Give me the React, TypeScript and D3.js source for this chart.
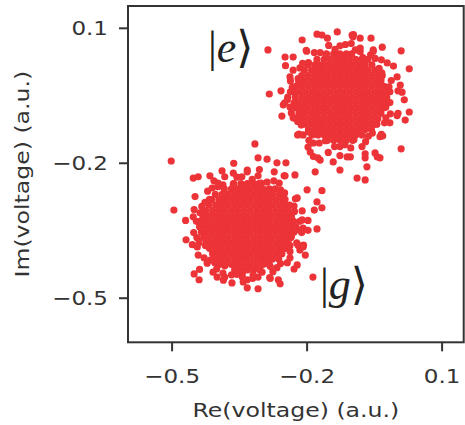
import * as d3 from 'd3'

// tick values (a.u.)
const reTicks = [-0.5, -0.2, 0.1]
const imTicks = [0.1, -0.2, -0.5]

// dense centre of the |e> blob, read row by row: Im value and the Re values on that row
const excitedCore = [
  { im: 0.043, re: [-0.157, -0.141, -0.127, -0.113, -0.101] },
  { im: 0.031, re: [-0.178, -0.162, -0.148, -0.134, -0.120, -0.106, -0.092, -0.078, -0.065] },
  { im: 0.019, re: [-0.198, -0.183, -0.169, -0.155, -0.141, -0.127, -0.113, -0.099, -0.085, -0.071, -0.056] },
  { im: 0.007, re: [-0.206, -0.190, -0.176, -0.162, -0.148, -0.134, -0.120, -0.106, -0.092, -0.078, -0.064, -0.049] },
  { im: -0.005, re: [-0.212, -0.197, -0.183, -0.169, -0.155, -0.141, -0.127, -0.113, -0.099, -0.085, -0.071, -0.057, -0.043, -0.033] },
  { im: -0.017, re: [-0.219, -0.204, -0.190, -0.176, -0.162, -0.148, -0.134, -0.120, -0.106, -0.092, -0.078, -0.064, -0.050, -0.036] },
  { im: -0.029, re: [-0.225, -0.211, -0.197, -0.183, -0.169, -0.155, -0.141, -0.127, -0.113, -0.099, -0.085, -0.071, -0.057, -0.043, -0.029] },
  { im: -0.041, re: [-0.231, -0.218, -0.204, -0.190, -0.176, -0.162, -0.148, -0.134, -0.120, -0.106, -0.092, -0.078, -0.064, -0.050, -0.036, -0.024] },
  { im: -0.053, re: [-0.226, -0.211, -0.197, -0.183, -0.169, -0.155, -0.141, -0.127, -0.113, -0.099, -0.085, -0.071, -0.057, -0.043, -0.029] },
  { im: -0.065, re: [-0.229, -0.218, -0.204, -0.190, -0.176, -0.162, -0.148, -0.134, -0.120, -0.106, -0.092, -0.078, -0.064, -0.050, -0.036, -0.023] },
  { im: -0.077, re: [-0.224, -0.211, -0.197, -0.183, -0.169, -0.155, -0.141, -0.127, -0.113, -0.099, -0.085, -0.071, -0.057, -0.043, -0.030] },
  { im: -0.089, re: [-0.218, -0.204, -0.190, -0.176, -0.162, -0.148, -0.134, -0.120, -0.106, -0.092, -0.078, -0.064, -0.050, -0.036] },
  { im: -0.101, re: [-0.211, -0.197, -0.183, -0.169, -0.155, -0.141, -0.127, -0.113, -0.099, -0.085, -0.071, -0.057, -0.043] },
  { im: -0.113, re: [-0.204, -0.190, -0.176, -0.162, -0.148, -0.134, -0.120, -0.106, -0.092, -0.078, -0.064, -0.050] },
  { im: -0.125, re: [-0.197, -0.183, -0.169, -0.155, -0.141, -0.127, -0.113, -0.099, -0.085, -0.071, -0.057] },
  { im: -0.137, re: [-0.189, -0.176, -0.162, -0.148, -0.134, -0.120, -0.106, -0.092, -0.078] },
  { im: -0.149, re: [-0.155, -0.141, -0.127, -0.113, -0.099] },
]

// scattered |e> shots around the centre
const excitedHalo = [
  [-0.023, -0.053], [-0.018, -0.030], [-0.036, -0.012], [-0.040, 0.011], [-0.049, 0.033], [-0.076, 0.035],
  [-0.093, 0.052], [-0.115, 0.064], [-0.138, 0.053], [-0.158, 0.042], [-0.184, 0.046], [-0.197, 0.024],
  [-0.216, 0.012], [-0.220, -0.012], [-0.233, -0.031], [-0.243, -0.053], [-0.225, -0.074], [-0.229, -0.099],
  [-0.213, -0.115], [-0.197, -0.130], [-0.186, -0.155], [-0.159, -0.150], [-0.139, -0.163], [-0.116, -0.159],
  [-0.096, -0.148], [-0.070, -0.152], [-0.055, -0.133], [-0.045, -0.113], [-0.025, -0.099], [-0.025, -0.075],
  [-0.016, -0.041], [-0.013, -0.016], [-0.034, 0.001], [-0.035, 0.030], [-0.059, 0.041], [-0.082, 0.048],
  [-0.102, 0.066], [-0.127, 0.061], [-0.152, 0.062], [-0.171, 0.046], [-0.201, 0.049], [-0.210, 0.022],
  [-0.231, 0.007], [-0.237, -0.017], [-0.237, -0.041], [-0.250, -0.066], [-0.235, -0.088], [-0.221, -0.107],
  [-0.218, -0.135], [-0.196, -0.149], [-0.173, -0.155], [-0.153, -0.176], [-0.127, -0.163], [-0.103, -0.166],
  [-0.078, -0.163], [-0.064, -0.140], [-0.035, -0.136], [-0.028, -0.110], [-0.015, -0.090], [-0.016, -0.065],
  [0.002, -0.039], [-0.008, 0.016], [-0.053, 0.049], [-0.097, 0.086], [-0.155, 0.078], [-0.202, 0.051],
  [-0.248, 0.017], [-0.258, -0.039], [-0.256, -0.095], [-0.221, -0.137], [-0.186, -0.185], [-0.127, -0.183],
  [-0.071, -0.179], [-0.032, -0.139], [0.000, -0.094],
  [-0.287, 0.052], [-0.284, -0.046], [-0.211, 0.074], [-0.178, 0.087], [-0.133, 0.092], [-0.100, 0.085],
  [-0.082, 0.078], [-0.058, 0.078], [-0.033, 0.058], [0.009, 0.050], [0.027, 0.010], [0.007, -0.026],
  [0.011, -0.042], [0.016, -0.059], [0.027, -0.086], [0.018, -0.104], [0.009, -0.168], [-0.049, -0.177],
  [-0.038, -0.188], [-0.071, -0.188], [-0.089, -0.233], [-0.071, -0.237], [-0.127, -0.215], [-0.182, -0.219],
  [-0.111, -0.186], [-0.176, -0.188], [-0.193, -0.175], [-0.249, 0.036], [-0.231, 0.036], [-0.253, -0.070],
  [-0.220, -0.099], [-0.209, -0.137], [-0.171, -0.193], [-0.142, -0.197], [-0.104, -0.186], [-0.044, -0.186],
  [-0.067, -0.208], [-0.167, 0.085], [-0.098, 0.081], [-0.082, 0.056], [-0.053, 0.052], [-0.022, 0.023],
  [0.000, -0.008], [0.002, -0.089], [-0.016, -0.110], [-0.038, -0.141], [-0.238, -0.008], [-0.244, -0.059],
  [-0.238, -0.075], [-0.231, -0.099], [-0.198, -0.164],
]

// dense centre of the |g> blob
const groundCore = [
  { im: -0.245, re: [-0.363, -0.347, -0.333, -0.319, -0.307] },
  { im: -0.257, re: [-0.384, -0.368, -0.354, -0.340, -0.326, -0.312, -0.298, -0.284, -0.271] },
  { im: -0.269, re: [-0.404, -0.389, -0.375, -0.361, -0.347, -0.333, -0.319, -0.305, -0.291, -0.277, -0.262] },
  { im: -0.281, re: [-0.412, -0.396, -0.382, -0.368, -0.354, -0.340, -0.326, -0.312, -0.298, -0.284, -0.270, -0.255] },
  { im: -0.293, re: [-0.418, -0.403, -0.389, -0.375, -0.361, -0.347, -0.333, -0.319, -0.305, -0.291, -0.277, -0.263, -0.249, -0.239] },
  { im: -0.305, re: [-0.425, -0.410, -0.396, -0.382, -0.368, -0.354, -0.340, -0.326, -0.312, -0.298, -0.284, -0.270, -0.256, -0.242] },
  { im: -0.317, re: [-0.431, -0.417, -0.403, -0.389, -0.375, -0.361, -0.347, -0.333, -0.319, -0.305, -0.291, -0.277, -0.263, -0.249, -0.235] },
  { im: -0.329, re: [-0.437, -0.424, -0.410, -0.396, -0.382, -0.368, -0.354, -0.340, -0.326, -0.312, -0.298, -0.284, -0.270, -0.256, -0.242, -0.230] },
  { im: -0.341, re: [-0.432, -0.417, -0.403, -0.389, -0.375, -0.361, -0.347, -0.333, -0.319, -0.305, -0.291, -0.277, -0.263, -0.249, -0.235] },
  { im: -0.353, re: [-0.435, -0.424, -0.410, -0.396, -0.382, -0.368, -0.354, -0.340, -0.326, -0.312, -0.298, -0.284, -0.270, -0.256, -0.242, -0.229] },
  { im: -0.365, re: [-0.430, -0.417, -0.403, -0.389, -0.375, -0.361, -0.347, -0.333, -0.319, -0.305, -0.291, -0.277, -0.263, -0.249, -0.236] },
  { im: -0.377, re: [-0.424, -0.410, -0.396, -0.382, -0.368, -0.354, -0.340, -0.326, -0.312, -0.298, -0.284, -0.270, -0.256, -0.242] },
  { im: -0.389, re: [-0.417, -0.403, -0.389, -0.375, -0.361, -0.347, -0.333, -0.319, -0.305, -0.291, -0.277, -0.263, -0.249] },
  { im: -0.401, re: [-0.410, -0.396, -0.382, -0.368, -0.354, -0.340, -0.326, -0.312, -0.298, -0.284, -0.270, -0.256] },
  { im: -0.413, re: [-0.403, -0.389, -0.375, -0.361, -0.347, -0.333, -0.319, -0.305, -0.291, -0.277, -0.263] },
  { im: -0.425, re: [-0.395, -0.382, -0.368, -0.354, -0.340, -0.326, -0.312, -0.298, -0.284] },
  { im: -0.437, re: [-0.361, -0.347, -0.333, -0.319, -0.305] },
]

// scattered |g> shots
const groundHalo = [
  [-0.225, -0.341], [-0.235, -0.320], [-0.229, -0.295], [-0.249, -0.280], [-0.259, -0.259], [-0.274, -0.239],
  [-0.302, -0.244], [-0.322, -0.236], [-0.345, -0.230], [-0.364, -0.246], [-0.387, -0.248], [-0.411, -0.255],
  [-0.417, -0.280], [-0.434, -0.296], [-0.431, -0.320], [-0.439, -0.341], [-0.445, -0.365], [-0.426, -0.383],
  [-0.429, -0.410], [-0.405, -0.421], [-0.383, -0.428], [-0.368, -0.448], [-0.344, -0.445], [-0.321, -0.456],
  [-0.300, -0.442], [-0.282, -0.429], [-0.259, -0.423], [-0.238, -0.410], [-0.238, -0.383], [-0.235, -0.362],
  [-0.216, -0.329], [-0.228, -0.307], [-0.226, -0.279], [-0.250, -0.266], [-0.262, -0.244], [-0.289, -0.242],
  [-0.309, -0.228], [-0.333, -0.215], [-0.356, -0.231], [-0.383, -0.230], [-0.398, -0.252], [-0.421, -0.262],
  [-0.427, -0.287], [-0.451, -0.303], [-0.446, -0.329], [-0.452, -0.354], [-0.440, -0.376], [-0.442, -0.404],
  [-0.415, -0.415], [-0.401, -0.435], [-0.383, -0.453], [-0.356, -0.447], [-0.333, -0.459], [-0.309, -0.453],
  [-0.283, -0.454], [-0.267, -0.432], [-0.244, -0.421], [-0.238, -0.396], [-0.223, -0.377], [-0.212, -0.354],
  [-0.198, -0.327], [-0.222, -0.277], [-0.251, -0.228], [-0.306, -0.214], [-0.363, -0.200], [-0.407, -0.239],
  [-0.449, -0.274], [-0.470, -0.327], [-0.455, -0.381], [-0.439, -0.436], [-0.386, -0.460], [-0.333, -0.477],
  [-0.282, -0.456], [-0.229, -0.435], [-0.208, -0.382],
  [-0.502, -0.195], [-0.496, -0.304], [-0.469, -0.370], [-0.451, -0.446], [-0.440, -0.459], [-0.442, -0.230],
  [-0.416, -0.228], [-0.389, -0.217], [-0.333, -0.219], [-0.316, -0.157], [-0.309, -0.188], [-0.267, -0.199],
  [-0.273, -0.219], [-0.249, -0.228], [-0.227, -0.226], [-0.200, -0.259], [-0.167, -0.261], [-0.178, -0.286],
  [-0.167, -0.299], [-0.184, -0.304], [-0.211, -0.306], [-0.209, -0.344], [-0.178, -0.346], [-0.187, -0.453],
  [-0.216, -0.393], [-0.204, -0.404], [-0.222, -0.426], [-0.264, -0.459], [-0.260, -0.468], [-0.309, -0.479],
  [-0.344, -0.453], [-0.342, -0.464], [-0.367, -0.466], [-0.387, -0.444], [-0.422, -0.422], [-0.453, -0.319],
  [-0.438, -0.310], [-0.431, -0.348], [-0.444, -0.386], [-0.247, -0.199], [-0.289, -0.191], [-0.453, -0.233],
  [-0.398, -0.244], [-0.364, -0.222], [-0.216, -0.349], [-0.198, -0.349], [-0.211, -0.326], [-0.220, -0.382],
  [-0.209, -0.386], [-0.409, -0.442], [-0.400, -0.453], [-0.320, -0.448], [-0.276, -0.441],
]

const RED = '#ec3337'
const INK = '#333'
const STRETCH = 1.18

const flattenRows = (rows) => rows.flatMap(r => r.re.map(re => [re, r.im]))

export default function App() {
  const width = 465
  const height = 425
  const left = 128
  const right = 463.7
  const top = 6
  const bottom = 342.3

  const x = d3.scaleLinear().domain([-0.598, 0.148]).range([left, right])
  const y = d3.scaleLinear().domain([-0.598, 0.1496]).range([bottom, top])
  const fmt = d3.format('.1f')

  const points = [
    ...flattenRows(excitedCore),
    ...excitedHalo,
    ...flattenRows(groundCore),
    ...groundHalo,
  ]

  const font = '"DejaVu Sans", sans-serif'

  return (
    <svg width={width} height={height} style={{ position: 'absolute', left: 0, top: 0, background: '#fff' }}>
      <g>
        {points.map((p, i) => (
          <circle key={i} cx={x(p[0])} cy={y(p[1])} r={3.6} fill={RED} />
        ))}
      </g>

      <rect x={left} y={top} width={right - left} height={bottom - top} fill='none' stroke={INK} strokeWidth={2} />

      {reTicks.map(t => (
        <g key={'x' + t}>
          <line x1={x(t)} x2={x(t)} y1={bottom} y2={bottom + 9} stroke={INK} strokeWidth={2} />
          <g transform={`translate(${x(t)},${bottom + 41}) scale(${STRETCH},1)`}>
            <text textAnchor='middle' fontFamily={font} fontSize={19.5} fill={INK}>{fmt(t)}</text>
          </g>
        </g>
      ))}

      {imTicks.map(t => (
        <g key={'y' + t}>
          <line x1={left - 9} x2={left} y1={y(t)} y2={y(t)} stroke={INK} strokeWidth={2} />
          <g transform={`translate(${left - 20},${y(t) + 7}) scale(${STRETCH},1)`}>
            <text textAnchor='end' fontFamily={font} fontSize={19.5} fill={INK}>{fmt(t)}</text>
          </g>
        </g>
      ))}

      <g transform={`translate(${(left + right) / 2},416.5) scale(${STRETCH},1)`}>
        <text textAnchor='middle' fontFamily={font} fontSize={20} fill={INK}>Re(voltage) (a.u.)</text>
      </g>
      <g transform={`translate(29,${(top + bottom) / 2}) rotate(-90) scale(${STRETCH},1)`}>
        <text textAnchor='middle' fontFamily={font} fontSize={20} fill={INK}>Im(voltage) (a.u.)</text>
      </g>

      <text x={208} y={62} fontFamily='"Liberation Serif", serif' fontSize={44} fill='#222'>
        |<tspan fontStyle='italic'>e</tspan><tspan fontFamily='"DejaVu Serif", serif'>⟩</tspan>
      </text>
      <text x={320} y={299} fontFamily='"Liberation Serif", serif' fontSize={44} fill='#222'>
        |<tspan fontStyle='italic'>g</tspan><tspan fontFamily='"DejaVu Serif", serif'>⟩</tspan>
      </text>
    </svg>
  )
}
